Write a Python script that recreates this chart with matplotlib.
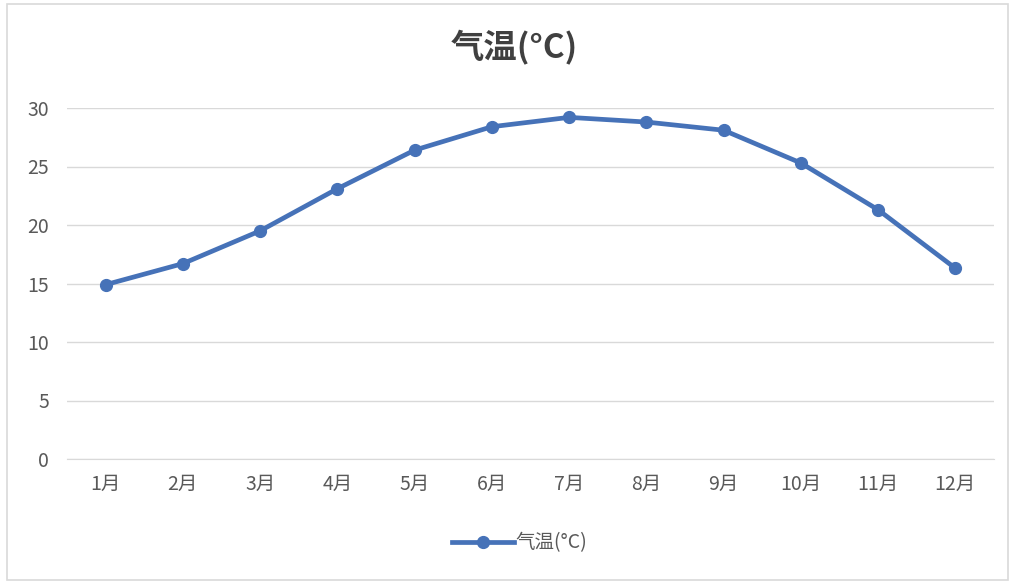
import matplotlib
matplotlib.use("Agg")
import matplotlib.pyplot as plt
from matplotlib.patches import Rectangle

plt.rcParams['font.family'] = ['Noto Sans CJK SC', 'DejaVu Sans']

months = ['1月', '2月', '3月', '4月', '5月', '6月', '7月', '8月', '9月', '10月', '11月', '12月']
temps = [14.9, 16.7, 19.5, 23.1, 26.4, 28.4, 29.2, 28.8, 28.1, 25.3, 21.3, 16.3]
yticks = [0, 5, 10, 15, 20, 25, 30]

fig = plt.figure(figsize=(10.15, 5.83), dpi=100)
# chart border
fig.patches.append(Rectangle((7 / 1015, 3 / 583), 1001 / 1015, 576 / 583,
                             transform=fig.transFigure, fill=False,
                             edgecolor='#D9D9D9', linewidth=1.2))

ax = fig.add_axes([67 / 1015, 1 - 459 / 583, 927 / 1015, 351 / 583])
x = range(len(months))
ax.plot(x, temps, color='#4672B8', linewidth=3.4, marker='o', markersize=8.5,
        label='气温(°C)')

ax.set_xlim(-0.5, len(months) - 0.5)
ax.set_ylim(0, 30)
ax.set_yticks(yticks)
ax.set_xticks(list(x))
ax.set_xticklabels(months)
ax.grid(axis='y', color='#D9D9D9', linewidth=1)
ax.set_axisbelow(True)
for s in ['top', 'right', 'left']:
    ax.spines[s].set_visible(False)
ax.spines['bottom'].set_color('#D9D9D9')
ax.tick_params(axis='both', length=0, labelsize=14, colors='#595959')
ax.tick_params(axis='x', pad=11)
ax.tick_params(axis='y', pad=13)

fig.text(0.507, 1 - 48 / 583, '气温(°C)', ha='center', va='center',
         fontsize=24, fontweight='bold', color='#404040')

fig.legend(loc='center', bbox_to_anchor=(0.512, 1 - 543 / 583), frameon=False,
           fontsize=14, labelcolor='#595959', handlelength=3.2, handletextpad=0.1)

fig.savefig('out.png', dpi=100)
